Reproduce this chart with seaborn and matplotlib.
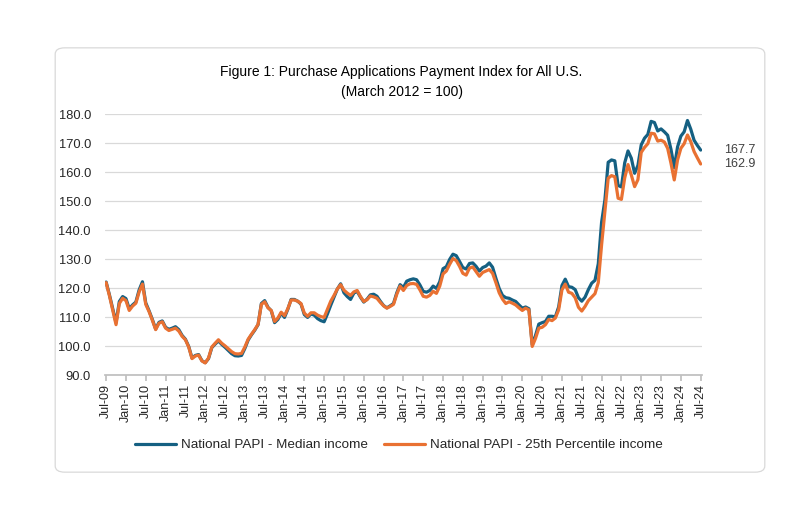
import pandas as pd
import seaborn as sns
import matplotlib.pyplot as plt
from matplotlib.patches import FancyBboxPatch

# monthly index values, Jul-2009 .. Jul-2024
months = pd.date_range('2009-07-01', '2024-07-01', freq='MS')

median_income = [
    122.2, 117.8, 113.0, 108.2, 115.5, 117.2, 116.5, 113.0, 114.3, 115.3,
    119.5, 122.3, 115.0, 112.3, 109.3, 106.0, 108.3, 108.8, 106.6, 105.9,
    106.3, 106.8, 105.8, 103.8, 102.5, 100.0, 96.0, 96.9, 97.2, 95.1,
    94.4, 95.8, 99.6, 100.8, 101.9, 100.7, 99.7, 98.6, 97.5, 96.8,
    96.7, 96.9, 99.3, 102.2, 104.0, 105.6, 107.5, 114.8, 115.8, 113.5,
    112.3, 108.2, 109.3, 111.5, 110.0, 112.8, 116.2, 116.2, 115.6, 114.6,
    111.0, 110.0, 111.2, 110.8, 109.6, 108.9, 108.5, 111.2, 114.2, 117.0,
    119.8, 121.6, 118.5, 117.2, 116.2, 118.4, 119.0, 117.0, 115.3, 116.3,
    117.8, 118.0, 117.3, 115.6, 114.1, 113.3, 114.0, 114.8, 118.5, 121.3,
    120.3, 122.5, 123.0, 123.3, 123.0, 121.2, 119.0, 118.7, 119.3, 120.8,
    120.0, 122.3, 126.8, 127.5, 130.0, 131.8, 131.3, 129.3, 127.2, 126.7,
    128.6, 128.8, 127.6, 126.0, 127.2, 127.7, 128.8, 127.3, 123.5, 120.0,
    117.6, 116.8, 116.6, 116.0, 115.5, 114.3, 113.2, 113.6, 113.0, 100.6,
    103.8, 107.7, 108.2, 108.6, 110.4, 110.4, 110.2, 113.6, 121.0, 123.2,
    120.6, 120.4, 119.6, 116.8, 115.6, 117.0, 119.6, 121.8, 122.8, 128.5,
    142.8, 150.5, 163.5, 164.3, 164.0, 155.5, 155.0, 163.3, 167.4, 164.9,
    159.7, 162.4, 169.5, 171.8, 173.1, 177.6, 177.2, 174.3, 175.0, 174.0,
    172.8, 168.0, 161.6, 168.8, 172.5, 174.0, 177.9, 174.9, 171.1, 169.3,
    167.7,
]

pct25_income = [
    122.0, 117.5, 112.5, 107.5, 114.8, 116.6, 115.8, 112.4, 113.9, 114.9,
    118.8, 121.5, 114.5, 112.0, 109.0, 105.8, 108.0, 108.5, 106.3, 105.5,
    105.9, 106.3, 105.3, 103.5, 102.3, 99.8, 95.8, 96.7, 97.0, 95.0,
    94.3, 96.0, 99.8, 101.1, 102.3, 101.1, 100.2, 99.2, 98.2, 97.5,
    97.4, 97.6, 99.8, 102.5, 104.2, 105.8, 107.6, 114.5, 115.4, 113.3,
    112.4, 108.6, 109.8, 111.8, 110.6, 113.0, 116.0, 116.0, 115.6, 114.8,
    111.5, 110.4, 111.6, 111.6, 110.8, 110.3, 110.0, 112.8, 115.6, 117.6,
    119.8, 121.3, 119.4, 118.4, 117.6, 118.8, 119.3, 117.2, 115.5, 116.1,
    117.4, 117.1, 116.6, 115.2, 114.0, 113.2, 113.8, 114.5, 118.0, 120.8,
    119.3, 121.0, 121.6, 121.7, 121.4, 119.5, 117.3, 117.0, 117.6, 119.0,
    118.3, 120.8, 125.0, 126.0, 128.3, 130.3, 129.6, 127.6, 125.2, 124.6,
    127.0, 127.4, 125.8, 124.2, 125.5, 126.0, 126.5, 125.2, 122.0, 118.5,
    116.3, 114.8, 115.4, 114.9, 114.3, 113.3, 112.4, 113.2, 112.6, 100.0,
    102.8, 106.3, 106.6, 107.5, 109.3, 108.9, 109.8, 112.6, 119.5, 121.5,
    118.7, 118.3, 116.8, 113.5, 112.2, 113.8, 115.8, 117.0, 118.2, 122.0,
    135.0, 146.5, 158.0, 158.9, 158.5, 151.1, 150.7, 158.1, 162.7, 159.1,
    155.1, 157.5, 166.9, 168.6, 169.9, 173.5, 173.3, 170.8, 171.1, 170.5,
    168.3, 163.2, 157.4, 164.3, 168.3, 169.9, 172.9, 170.6, 167.2, 165.0,
    162.9,
]

series_names = ['National PAPI - Median income', 'National PAPI - 25th Percentile income']
tick_labels = list(months[::6].strftime('%b-%y'))
y_ticks = list(range(90, 181, 10))

# %%
df = pd.DataFrame({'month': range(len(months)),
                   series_names[0]: median_income,
                   series_names[1]: pct25_income})
df_long = df.melt(id_vars='month', var_name='series', value_name='papi')

sns.set_theme(style='white')
plt.rcParams['font.family'] = ['Liberation Sans', 'DejaVu Sans']

fig = plt.figure(figsize=(8, 5.2), dpi=100)
ax = fig.add_axes([0.131, 0.278, 0.7465, 0.502])

sns.lineplot(data=df_long, x='month', y='papi', hue='series', hue_order=series_names,
             palette=['#156082', '#E97132'], linewidth=2.3, ax=ax, legend=False)

ax.set_xlim(-0.4, 180.4)
ax.set_ylim(90, 180)
ax.set_yticks(y_ticks)
ax.set_yticklabels([f'{v:.1f}' for v in y_ticks])
ax.set_xticks(range(0, len(months), 6))
ax.set_xticklabels(tick_labels, rotation=90)
ax.set_xlabel('')
ax.set_ylabel('')
ax.grid(axis='y', color='#D9D9D9', linewidth=0.9)
ax.set_axisbelow(True)
for s in ['top', 'right', 'left']:
    ax.spines[s].set_visible(False)
ax.spines['bottom'].set_color('#BFBFBF')
ax.tick_params(axis='x', bottom=True, direction='out', length=4, color='#BFBFBF',
               labelsize=9, labelcolor='#262626', pad=2)
ax.tick_params(axis='y', left=False, length=0, labelsize=9.3, labelcolor='#262626', pad=10)

# end labels
for vals in [median_income, pct25_income]:
    ax.annotate(f'{vals[-1]:.1f}', xy=(len(months) - 1, vals[-1]), xytext=(17, 0),
                textcoords='offset points', va='center', ha='left',
                fontsize=9, color='#404040', annotation_clip=False)

fig.text(0.502, 0.8615, 'Figure 1: Purchase Applications Payment Index for All U.S.',
         ha='center', va='center', fontsize=10, color='#000000')
fig.text(0.502, 0.823, '(March 2012 = 100)', ha='center', va='center',
         fontsize=10, color='#000000')

fig.legend(handles=ax.get_lines()[:2], labels=series_names, loc='center',
           bbox_to_anchor=(0.499, 0.144), ncol=2, frameon=False, fontsize=9.7,
           handlelength=3.0, handletextpad=0.4, columnspacing=1.2, labelcolor='#262626')

# chart area border
fig.patches.append(FancyBboxPatch((0.069, 0.092), 0.887, 0.816,
                                  boxstyle='round,pad=0,rounding_size=0.012',
                                  transform=fig.transFigure, fill=False,
                                  edgecolor='#D9D9D9', linewidth=0.9))

fig.savefig('out.png', dpi=100)
